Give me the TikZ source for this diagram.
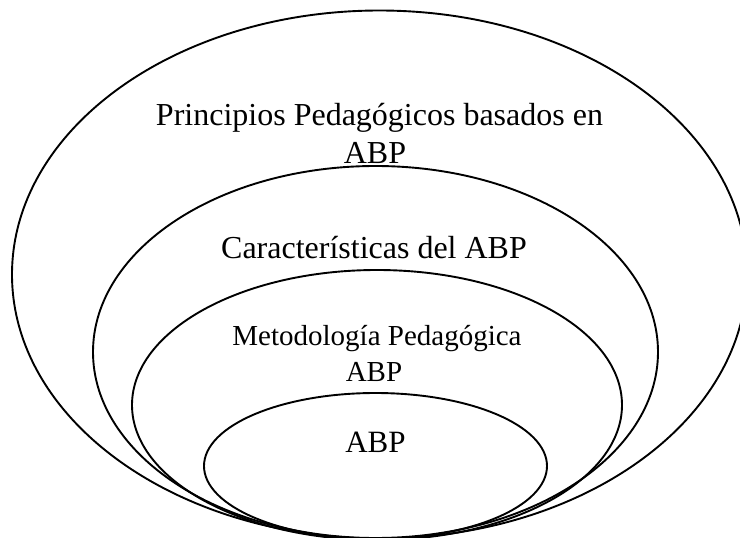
\documentclass[tikz,border=0pt]{standalone}
\usepackage{fontspec}
\setmainfont{Liberation Serif}
\usetikzlibrary{shapes.geometric}
\tikzset{
  ring/.style={ellipse, draw=black, line width=1.9pt, inner sep=0pt},
  lbl/.style={anchor=base, inner sep=0pt, align=center, text=black}
}
\begin{document}
\begin{tikzpicture}[x=1pt, y=-1pt]
\useasboundingbox (0,0) rectangle (740,538);
\clip (0,0) rectangle (740,538);
\fill[white] (0,0) rectangle (740,538);
\node[ring, minimum width=735pt, minimum height=528pt] (e1) at (379.5,274.5) {};
\node[ring, minimum width=565pt, minimum height=372pt] (e2) at (375.5,352) {};
\node[ring, minimum width=490pt, minimum height=270pt] (e3) at (377,405) {};
\node[ring, minimum width=343pt, minimum height=146pt] (e4) at (375.5,466) {};
\node[lbl, font=\fontsize{32}{38}\selectfont] (t1a) at (379.5,125) {Principios Pedagógicos basados en};
\node[lbl, font=\fontsize{32}{38}\selectfont] (t1b) at (375,163) {ABP};
\node[lbl, font=\fontsize{32}{38}\selectfont] (t2) at (374,258.5) {Características del ABP};
\node[lbl, font=\fontsize{29}{35}\selectfont] (t3a) at (377,345.5) {Metodología Pedagógica};
\node[lbl, font=\fontsize{29}{35}\selectfont] (t3b) at (374,381) {ABP};
\node[lbl, font=\fontsize{31}{37}\selectfont] (t4) at (375.5,452) {ABP};
\end{tikzpicture}
\end{document}
